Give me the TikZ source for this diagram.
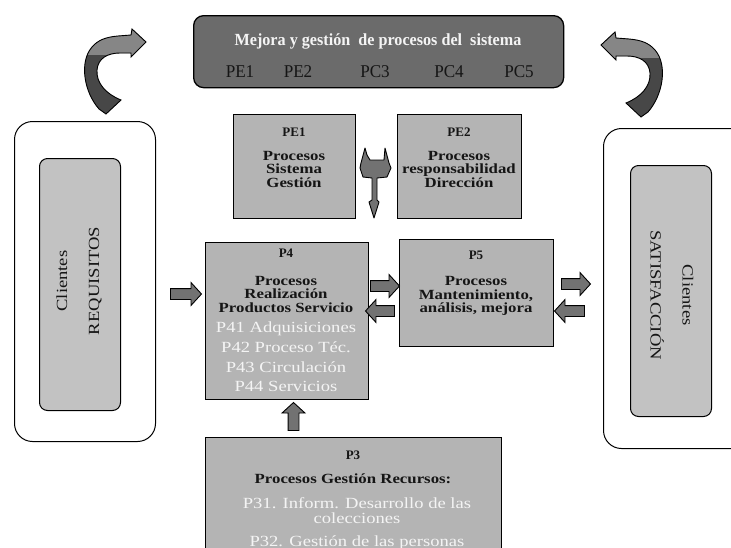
\documentclass[tikz,border=0pt]{standalone}
\usepackage{fontspec}
\setmainfont{Liberation Serif}
\newfontfamily\wideserif{Liberation Serif}[FakeStretch=1.2]
\newfontfamily\narrowserif{Liberation Serif}[FakeStretch=0.95]
\usetikzlibrary{shapes.arrows}

\definecolor{procgray}{HTML}{B4B4B4}
\definecolor{clientgray}{HTML}{C2C2C2}
\definecolor{bandgray}{HTML}{6B6B6B}
\definecolor{arrowgray}{HTML}{727272}
\definecolor{darkband}{HTML}{474747}
\definecolor{lightband}{HTML}{868686}
\definecolor{inkdark}{HTML}{151515}
\definecolor{inkwhite}{HTML}{F4F4F4}

\tikzset{
  procbox/.style={rectangle, draw=black, line width=1.1pt, fill=procgray,
    inner sep=0pt, anchor=north west},
  topband/.style={rectangle, rounded corners=10pt, draw=black, line width=1.3pt,
    fill=bandgray, inner sep=0pt, anchor=north west},
  outerframe/.style={rectangle, rounded corners=18pt, draw=black, line width=1pt,
    fill=white, inner sep=0pt, anchor=north west},
  innerframe/.style={rectangle, rounded corners=8pt, draw=black, line width=1pt,
    fill=clientgray, inner sep=0pt, anchor=north west},
  titletext/.style={text=inkwhite, inner sep=0pt,
    font=\narrowserif\bfseries\fontsize{17}{17}\selectfont},
  bandlabel/.style={text=inkdark, inner sep=0pt,
    font=\narrowserif\fontsize{18}{18}\selectfont},
  heading/.style={text=inkdark, inner sep=0pt,
    font=\bfseries\fontsize{13}{13}\selectfont},
  bodytext/.style={text=inkdark, inner sep=0pt, align=center,
    font=\wideserif\bfseries\fontsize{14}{13.5}\selectfont},
  listtext/.style={text=inkwhite, inner sep=0pt, align=center,
    font=\wideserif\fontsize{15.5}{19.7}\selectfont},
  clienttext/.style={text=inkdark, inner sep=0pt, align=center,
    font=\wideserif\fontsize{15.5}{32}\selectfont},
  blockarrow/.style={single arrow, draw=black, line width=0.9pt, fill=arrowgray,
    minimum height=30pt, minimum width=22pt, single arrow head extend=6pt,
    single arrow tip angle=95, inner xsep=0pt, inner ysep=5pt, anchor=center},
  curlarrow/.pic={
    \path[fill=darkband, draw=black, line width=0.9pt,
      path picture={\fill[lightband] (path picture bounding box.north west)
        rectangle ([yshift=-26pt]path picture bounding box.north east);}]
      (106,114) -- (99,109) .. controls (84,92) and (79,62) .. (92,47)
      .. controls (98,40) and (106,37) .. (118,36) -- (131,35) -- (132,29)
      -- (146,42) -- (131,57) -- (131,53) -- (120,53)
      .. controls (108,53) and (98,58) .. (97,70)
      .. controls (96,83) and (106,94) .. (121,100) -- cycle;
  }
}

\begin{document}
\begin{tikzpicture}[x=1pt,y=-1pt]
\useasboundingbox (0,0) rectangle (731,547);
\clip (0,0) rectangle (731,547);

% system improvement band
\node[topband, minimum width=370pt, minimum height=72pt] (mejora) at (193,15) {};
\node[titletext] (mejoraT) at (378,41) {Mejora y gestión\ \ de procesos del\ \ sistema};
\node[bandlabel] (bPE1) at (240,72) {PE1};
\node[bandlabel] (bPE2) at (298,72) {PE2};
\node[bandlabel] (bPC3) at (375,72) {PC3};
\node[bandlabel] (bPC4) at (449,72) {PC4};
\node[bandlabel] (bPC5) at (519,72) {PC5};

% curved feedback arrows
\pic {curlarrow};
\pic[xshift=747pt, xscale=-1, yshift=-3pt] {curlarrow};

% customers: requirements
\node[outerframe, minimum width=141pt, minimum height=320pt] (frameL) at (14,121) {};
\node[innerframe, minimum width=81pt, minimum height=252pt] (clientL) at (39,158) {};
\node[clienttext, rotate=90] (clientLT) at (79,281) {Clientes\\REQUISITOS};

% customers: satisfaction
\node[outerframe, minimum width=160pt, minimum height=320pt] (frameR) at (603,128) {};
\node[innerframe, minimum width=81pt, minimum height=251pt] (clientR) at (630,165) {};
\node[clienttext, rotate=-90] (clientRT) at (672,295) {Clientes\\SATISFACCIÓN};

% strategic processes
\node[procbox, minimum width=122pt, minimum height=104pt] (pe1) at (233,114) {};
\node[heading] (pe1H) at (294,132) {PE1};
\node[bodytext] (pe1B) at (294,169) {Procesos\\Sistema\\Gestión};

\node[procbox, minimum width=124pt, minimum height=104pt] (pe2) at (397,114) {};
\node[heading] (pe2H) at (459,132) {PE2};
\node[bodytext] (pe2B) at (459,169) {Procesos\\responsabilidad\\Dirección};

% merging arrow between PE1 and PE2
\draw[fill=arrowgray, line width=0.9pt, line join=round] (365,148) -- (361,163) -- (360,168)
  -- (363,177) -- (372,178) -- (372,200) -- (369,202) -- (374,218) -- (379,202)
  -- (377,200) -- (377,178) -- (387,177) -- (391,168) -- (389,163) -- (385,148)
  -- (384,160) -- (370,160) -- (367,155) -- cycle;

% key process P4
\node[procbox, minimum width=163pt, minimum height=157pt] (p4) at (205,242) {};
\node[heading] (p4H) at (286,253) {P4};
\node[bodytext] (p4B) at (286,294) {Procesos\\Realización\\Productos Servicio};
\node[listtext] (p4L) at (286,357) {P41 Adquisiciones\\P42 Proceso Téc.\\P43 Circulación\\P44 Servicios};

% process P5
\node[procbox, minimum width=154pt, minimum height=107pt] (p5) at (399,239) {};
\node[heading] (p5H) at (476,255) {P5};
\node[bodytext] (p5B) at (476,296) {Procesos\\Mantenimiento,\\análisis, mejora};

% resource process P3
\node[procbox, minimum width=296pt, minimum height=140pt] (p3) at (205,437) {};
\node[heading] (p3H) at (353,455) {P3};
\node[bodytext] (p3B) at (353,479) {Procesos Gestión Recursos:};
\node[listtext, font=\wideserif\fontsize{15.5}{15}\selectfont] (p3L1) at (357,511) {P31. Inform. Desarrollo de las\\colecciones};
\node[listtext] (p3L2) at (357,543) {P32. Gestión de las personas};

% flow arrows
\node[blockarrow, minimum height=31pt] (inP4) at (183.5,294) {};
\node[blockarrow, minimum height=29pt] (p4to5) at (382.5,286) {};
\node[blockarrow, minimum height=29pt, rotate=180] (p5to4) at (382.5,311) {};
\node[blockarrow, minimum height=29pt] (p5toR) at (573.5,284) {};
\node[blockarrow, minimum height=30pt, rotate=180] (rtoP5) at (572,311) {};
\node[blockarrow, minimum height=28pt, rotate=90] (p3to4) at (293.5,419) {};
\end{tikzpicture}
\end{document}
